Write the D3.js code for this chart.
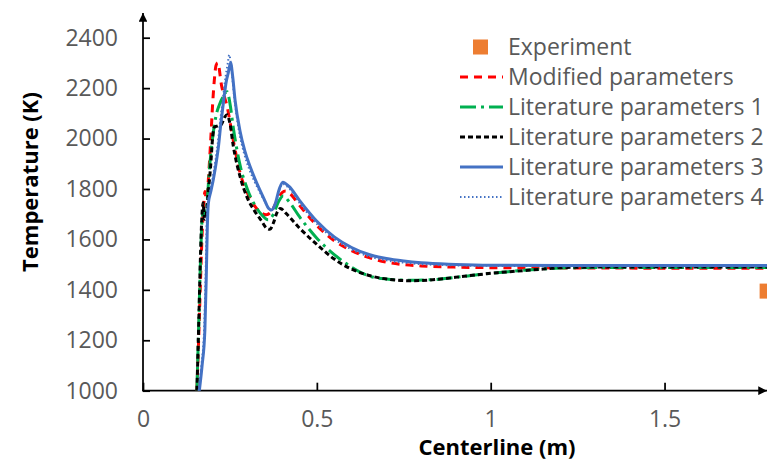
<!DOCTYPE html>
<html><head><meta charset="utf-8">
<script src="https://cdn.jsdelivr.net/npm/d3@7"></script>
<style>
html,body{margin:0;padding:0;background:#fff;}
svg{display:block;}
</style>
</head><body>
<svg id="chart" width="767" height="466"></svg>
<script>
// ---- data ----
const xTicks = [0, 0.5, 1, 1.5];
const xTickLabels = ["0", "0.5", "1", "1.5"];
const yTicks = [1000, 1200, 1400, 1600, 1800, 2000, 2200, 2400];
const yTickLabels = ["1000", "1200", "1400", "1600", "1800", "2000", "2200", "2400"];

const seriesNames = ["Experiment", "Modified parameters", "Literature parameters 1",
  "Literature parameters 2", "Literature parameters 3", "Literature parameters 4"];

const xExperiment = [1.795];
const tExperiment = [1395];

const xModified = [0.155,0.16,0.165,0.17,0.175,0.178,0.182,0.186,0.19,0.195,0.2,0.205,0.21,0.215,0.226,0.243,0.26,0.28,0.3,0.32,0.34,0.355,0.37,0.385,0.4,0.41,0.42,0.45,0.5,0.55,0.6,0.65,0.7,0.75,0.8,0.9,1.0,1.2,1.5,1.8];
const tModified = [1000,1200,1420,1620,1740,1790,1760,1800,1880,2000,2130,2230,2290,2300,2210,2120,1990,1860,1785,1735,1705,1698,1712,1752,1786,1792,1785,1735,1655,1595,1555,1528,1510,1500,1495,1490,1488,1487,1486,1486];

const xLit1 = [0.155,0.16,0.165,0.17,0.175,0.18,0.185,0.19,0.2,0.21,0.22,0.23,0.242,0.25,0.26,0.28,0.3,0.32,0.34,0.36,0.375,0.39,0.403,0.42,0.45,0.5,0.55,0.6,0.65,0.7,0.77,0.85,0.95,1.05,1.15,1.25,1.5,1.8];
const tLit1 = [1000,1250,1500,1680,1720,1700,1760,1860,2000,2090,2135,2165,2186,2140,2040,1890,1800,1740,1700,1678,1700,1750,1772,1750,1690,1605,1540,1490,1455,1443,1438,1442,1458,1472,1483,1488,1489,1489];

const xLit2 = [0.155,0.16,0.165,0.169,0.173,0.177,0.182,0.188,0.195,0.2,0.205,0.215,0.225,0.235,0.242,0.25,0.26,0.28,0.3,0.32,0.34,0.355,0.365,0.375,0.385,0.395,0.41,0.45,0.5,0.55,0.6,0.65,0.7,0.77,0.85,0.93,1.02,1.12,1.22,1.4,1.6,1.8];
const tLit2 = [1000,1250,1520,1680,1745,1680,1700,1790,1900,2000,2045,2050,2055,2085,2094,2060,1968,1845,1765,1715,1675,1645,1640,1665,1705,1723,1705,1645,1580,1522,1482,1457,1443,1436,1442,1455,1468,1479,1489,1491,1491,1491];

const xLit3 = [0.162,0.17,0.178,0.182,0.185,0.188,0.195,0.202,0.21,0.217,0.224,0.231,0.24,0.245,0.252,0.258,0.265,0.279,0.293,0.308,0.322,0.336,0.35,0.362,0.37,0.38,0.392,0.402,0.42,0.45,0.5,0.55,0.6,0.65,0.7,0.75,0.8,0.9,1.0,1.2,1.5,1.8];
const tLit3 = [1000,1100,1241,1450,1650,1743,1790,1836,1900,1968,2060,2140,2230,2259,2301,2245,2150,2030,1950,1889,1840,1796,1755,1722,1717,1740,1800,1827,1810,1755,1672,1610,1568,1540,1524,1514,1507,1501,1498,1497,1497,1497];

const xLit4 = [0.16,0.168,0.176,0.18,0.183,0.186,0.193,0.2,0.208,0.215,0.222,0.23,0.238,0.244,0.248,0.254,0.262,0.276,0.29,0.305,0.32,0.335,0.35,0.362,0.37,0.38,0.392,0.402,0.42,0.45,0.5,0.55,0.6,0.65,0.7,0.75,0.8,0.9,1.0,1.2,1.5,1.8];
const tLit4 = [1000,1100,1250,1450,1650,1740,1790,1840,1910,1980,2070,2160,2250,2300,2332,2280,2170,2030,1945,1880,1832,1790,1750,1720,1714,1738,1795,1820,1803,1745,1662,1602,1560,1533,1517,1508,1502,1497,1495,1494,1494,1494];

// ---- styles ----
const lineStyles = [
  {x: xModified, t: tModified, color: "#FF0000", width: 3, dash: "8,6", cap: "butt"},
  {x: xLit1, t: tLit1, color: "#00B050", width: 3, dash: "16,5,3,5", cap: "butt"},
  {x: xLit2, t: tLit2, color: "#000000", width: 3, dash: "5,3", cap: "butt"},
  {x: xLit3, t: tLit3, color: "#4472C4", width: 3, dash: null, cap: "round"},
  {x: xLit4, t: tLit4, color: "#4472C4", width: 2, dash: "1.5,2.5", cap: "butt"}
];

const svg = d3.select("#chart");
const W = 767, H = 466;
const x0 = 143, yBottom = 390.7;
const x = d3.scaleLinear().domain([0, 1.8]).range([x0, x0 + 1.8 * 347.7]);
const y = d3.scaleLinear().domain([1000, 2400]).range([yBottom, 37.7]);

svg.append("defs").append("clipPath").attr("id", "plotclip")
  .append("rect").attr("x", x0).attr("y", 0).attr("width", W - x0).attr("height", yBottom);

const defs = svg.select("defs");
defs.append("marker").attr("id", "arrow").attr("viewBox", "0 0 10 10")
  .attr("refX", 10).attr("refY", 5).attr("markerWidth", 5).attr("markerHeight", 5)
  .attr("markerUnits", "strokeWidth").attr("orient", "auto")
  .append("path").attr("d", "M0,0 L10,5 L0,10 Z").attr("fill", "#000");

const tickFont = "'Open Sans', sans-serif";

// axes
const yAxis = d3.axisLeft(y).tickValues(yTicks).tickFormat((d, i) => yTickLabels[i])
  .tickSizeInner(-7).tickSizeOuter(0).tickPadding(25);
const gy = svg.append("g").attr("transform", `translate(${x0},0)`).call(yAxis);
gy.select(".domain").remove();
gy.selectAll(".tick line").attr("stroke", "#000").attr("stroke-width", 1.75);
gy.selectAll(".tick text").attr("font-family", tickFont).attr("font-size", 23).attr("fill", "#595959");

const xAxis = d3.axisBottom(x).tickValues(xTicks).tickFormat((d, i) => xTickLabels[i])
  .tickSizeInner(-8).tickSizeOuter(0).tickPadding(20);
const gx = svg.append("g").attr("transform", `translate(0,${yBottom})`).call(xAxis);
gx.select(".domain").remove();
gx.selectAll(".tick line").attr("stroke", "#000").attr("stroke-width", 1.75);
gx.selectAll(".tick text").attr("font-family", tickFont).attr("font-size", 23).attr("fill", "#595959");

// axis lines with arrows
svg.append("line").attr("x1", x0).attr("y1", yBottom).attr("x2", x0).attr("y2", 13)
  .attr("stroke", "#000").attr("stroke-width", 1.75).attr("marker-end", "url(#arrow)");
svg.append("line").attr("x1", x0 - 0.9).attr("y1", yBottom).attr("x2", 767).attr("y2", yBottom)
  .attr("stroke", "#000").attr("stroke-width", 1.75).attr("marker-end", "url(#arrow)");

// lines
const plot = svg.append("g").attr("clip-path", "url(#plotclip)");
lineStyles.forEach(s => {
  const pts = s.x.map((v, i) => [v, s.t[i]]);
  const line = d3.line().x(d => x(d[0])).y(d => y(d[1])).curve(d3.curveMonotoneX);
  plot.append("path").attr("d", line(pts)).attr("fill", "none")
    .attr("stroke", s.color).attr("stroke-width", s.width)
    .attr("stroke-dasharray", s.dash).attr("stroke-linecap", s.cap)
    .attr("stroke-linejoin", "round");
});

// experiment marker
svg.append("g").selectAll("rect").data(xExperiment.map((v, i) => [v, tExperiment[i]])).join("rect")
  .attr("x", d => x(d[0]) - 7.5).attr("y", d => y(d[1]) - 7.5)
  .attr("width", 15).attr("height", 15).attr("fill", "#ED7D31");

// axis titles
svg.append("text").attr("x", 497).attr("y", 455).attr("text-anchor", "middle")
  .attr("font-family", tickFont).attr("font-weight", "bold").attr("font-size", 22)
  .attr("fill", "#000").text("Centerline (m)");
svg.append("text").attr("transform", "translate(38,182) rotate(-90)").attr("text-anchor", "middle")
  .attr("font-family", tickFont).attr("font-weight", "bold").attr("font-size", 22)
  .attr("fill", "#000").text("Temperature (K)");

// legend
const legend = svg.append("g");
const rowY = d => 47 + d * 30;
seriesNames.forEach((name, i) => {
  const cy = rowY(i);
  if (i === 0) {
    legend.append("rect").attr("x", 473).attr("y", cy - 7.5).attr("width", 15).attr("height", 15).attr("fill", "#ED7D31");
  } else {
    const s = lineStyles[i - 1];
    legend.append("line").attr("x1", 460).attr("x2", 503).attr("y1", cy).attr("y2", cy)
      .attr("stroke", s.color).attr("stroke-width", s.width)
      .attr("stroke-dasharray", s.dash).attr("stroke-linecap", "butt");
  }
  legend.append("text").attr("x", 508).attr("y", cy).attr("dy", "0.35em")
    .attr("font-family", tickFont).attr("font-size", 23).attr("fill", "#595959").text(name);
});
</script>
</body></html>
